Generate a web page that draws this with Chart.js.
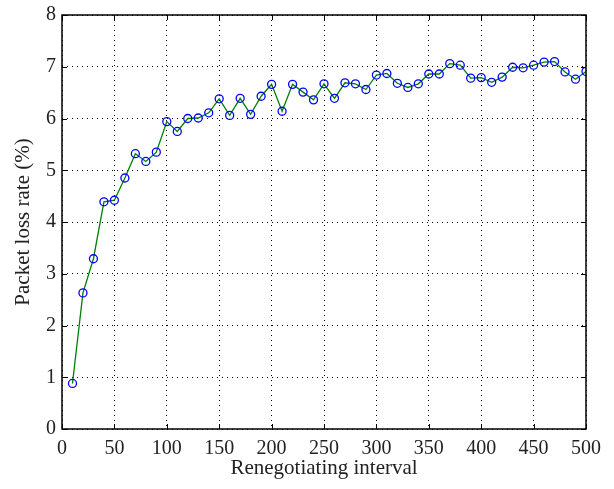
<!DOCTYPE html>
<html>
<head>
<meta charset="utf-8">
<script src="https://cdn.jsdelivr.net/npm/chart.js@4.4.1/dist/chart.umd.min.js"></script>
<style>
  html, body { margin: 0; padding: 0; background: #fff; }
</style>
</head>
<body>
<canvas id="myChart" width="614" height="489"></canvas>
<script>
// data
const intervals = [10, 20, 30, 40, 50, 60, 70, 80, 90, 100,
  110, 120, 130, 140, 150, 160, 170, 180, 190, 200,
  210, 220, 230, 240, 250, 260, 270, 280, 290, 300,
  310, 320, 330, 340, 350, 360, 370, 380, 390, 400,
  410, 420, 430, 440, 450, 460, 470, 480, 490, 500]
const lossRate = [0.88, 2.63, 3.29, 4.39, 4.42, 4.85, 5.32, 5.17, 5.35, 5.94,
  5.75, 6.0, 6.01, 6.11, 6.38, 6.06, 6.39, 6.08, 6.43, 6.66,
  6.14, 6.66, 6.51, 6.36, 6.67, 6.39, 6.69, 6.67, 6.56, 6.84,
  6.87, 6.68, 6.6, 6.67, 6.86, 6.86, 7.06, 7.03, 6.78, 6.79,
  6.7, 6.8, 6.99, 6.98, 7.03, 7.09, 7.1, 6.9, 6.76, 6.91]
const xTitle = 'Renegotiating interval'
const yTitle = 'Packet loss rate (%)'

Chart.defaults.font.family = "'Liberation Serif', 'DejaVu Serif', serif"
Chart.defaults.font.size = 20
Chart.defaults.color = '#222'

// box round the plot with small inward ticks, matlab style
const framePlugin = {
  id: 'frame',
  afterDraw(chart) {
    const { ctx, chartArea: a, scales } = chart
    ctx.save()
    ctx.strokeStyle = '#000'
    ctx.lineWidth = 1
    ctx.beginPath()
    scales.x.ticks.forEach(t => {
      const px = Math.round(scales.x.getPixelForValue(t.value)) + 0.5
      ctx.moveTo(px, a.bottom); ctx.lineTo(px, a.bottom - 5)
      ctx.moveTo(px, a.top); ctx.lineTo(px, a.top + 5)
    })
    scales.y.ticks.forEach(t => {
      const py = Math.round(scales.y.getPixelForValue(t.value)) + 0.5
      ctx.moveTo(a.left, py); ctx.lineTo(a.left + 5, py)
      ctx.moveTo(a.right, py); ctx.lineTo(a.right - 5, py)
    })
    ctx.stroke()
    ctx.lineWidth = 1.5
    ctx.strokeRect(a.left, a.top, a.right - a.left, a.bottom - a.top)
    ctx.restore()
  }
}

const points = intervals.map((x, i) => ({ x: x, y: lossRate[i] }))

new Chart(document.getElementById('myChart'), {
  type: 'line',
  data: {
    datasets: [{
      data: points,
      borderColor: '#008000',
      borderWidth: 1.3,
      pointStyle: 'circle',
      pointRadius: 4,
      pointBorderColor: '#0000ff',
      pointBorderWidth: 1.3,
      pointBackgroundColor: 'rgba(0,0,0,0)',
      tension: 0
    }]
  },
  options: {
    responsive: false,
    animation: false,
    layout: { padding: { top: 15, right: 28, left: 0, bottom: 0 } },
    plugins: { legend: { display: false }, tooltip: { enabled: false } },
    scales: {
      x: {
        type: 'linear',
        min: 0, max: 500,
        border: { display: false, dash: [1, 4] },
        grid: { color: '#000', lineWidth: 1, drawTicks: false },
        ticks: { stepSize: 50, padding: 8, color: '#222', maxRotation: 0 },
        title: { display: true, text: xTitle, color: '#222', font: { size: 21 }, padding: { top: 2, bottom: 8 } },
        afterFit: s => { s.height = 60 }
      },
      y: {
        min: 0, max: 8,
        border: { display: false, dash: [1, 4] },
        grid: { color: '#000', lineWidth: 1, drawTicks: false },
        ticks: { stepSize: 1, padding: 6, color: '#222', font: { lineHeight: 0.9 } },
        title: { display: true, text: yTitle, color: '#222', font: { size: 21 }, padding: { top: 11, bottom: 4 } },
        afterFit: s => { s.width = 62 }
      }
    }
  },
  plugins: [framePlugin]
})
</script>
</body>
</html>
